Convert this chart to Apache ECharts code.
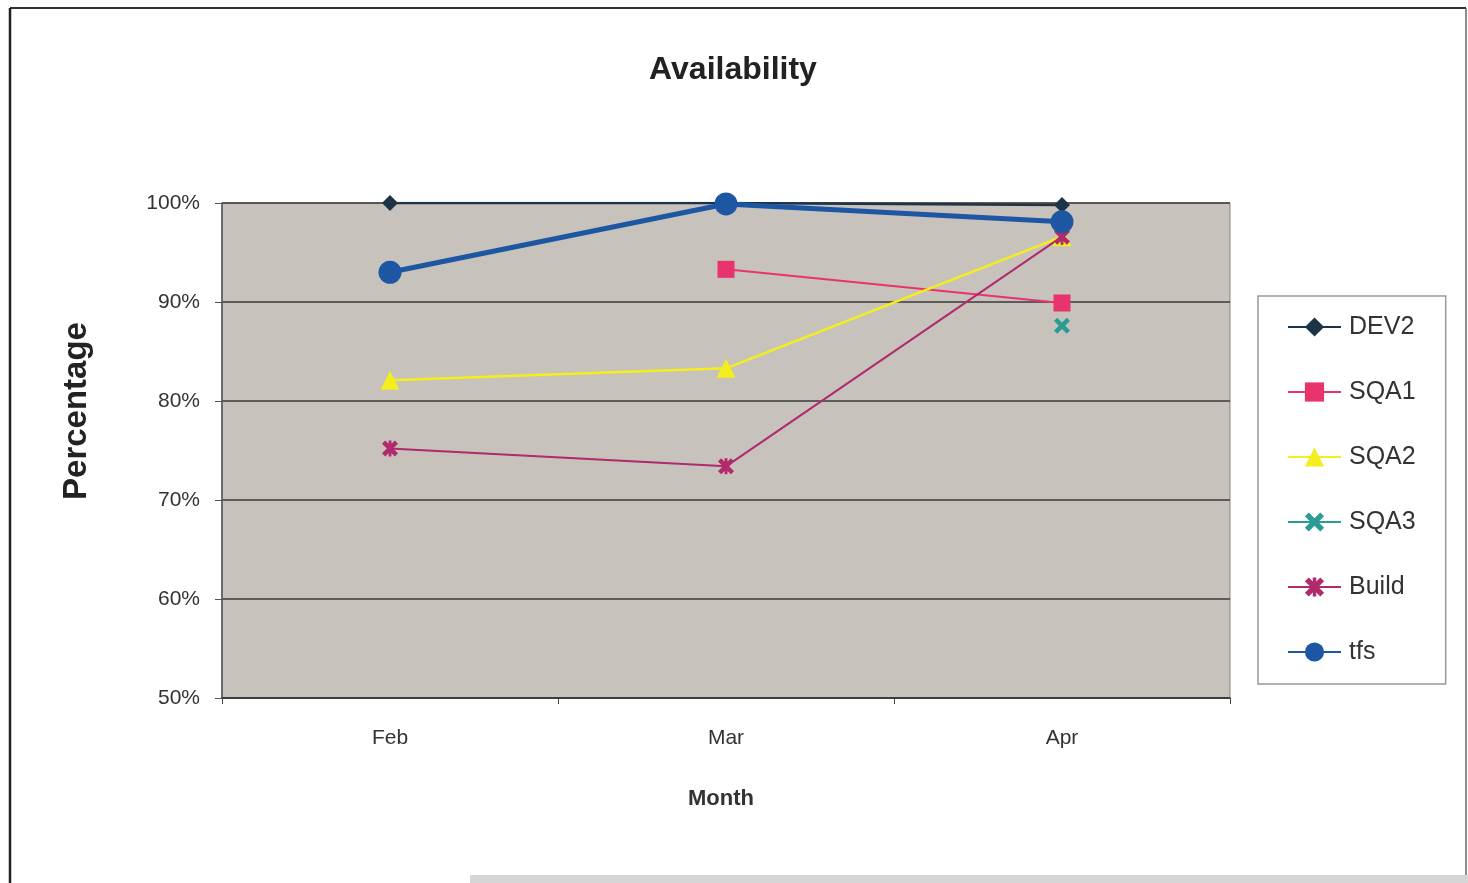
<!DOCTYPE html>
<html>
<head>
<meta charset="utf-8">
<script src="https://cdn.jsdelivr.net/npm/echarts@6/dist/echarts.min.js"></script>
<style>
html,body{margin:0;padding:0;background:#fff;}
#c{width:1468px;height:883px;}
</style>
</head>
<body>
<div id="c"></div>
<script>
const months = ['Feb', 'Mar', 'Apr'];
const dev2 = [100, 100, 99.8];
const sqa1 = [null, 93.3, 89.9];
const sqa2 = [82.1, 83.3, 96.6];
const sqa3 = [null, null, 87.6];
const build = [75.2, 73.4, 96.6];
const tfs = [93.0, 99.9, 98.1];

const xPath = 'path://M0,2 L2,0 L5,3 L8,0 L10,2 L7,5 L10,8 L8,10 L5,7 L2,10 L0,8 L3,5 Z';
const starPath = 'path://M0,2 L2,0 L5,3 L8,0 L10,2 L7,5 L10,8 L8,10 L5,7 L2,10 L0,8 L3,5 Z M4.1,0 L5.9,0 L5.9,10 L4.1,10 Z';
const FONT = 'Liberation Sans, Arial, sans-serif';

const chart = echarts.init(document.getElementById('c'), null, {renderer: 'canvas'});

function line(name, data, color, symbol, size, width, z) {
  return {
    name: name, type: 'line', data: data, symbol: symbol, symbolSize: size,
    lineStyle: {color: color, width: width},
    itemStyle: {color: color, borderColor: color, borderWidth: 0},
    connectNulls: false, z: z, animation: false
  };
}

chart.setOption({
  backgroundColor: '#ffffff',
  animation: false,
  title: {
    text: 'Availability', left: 728, top: 49, textAlign: 'center',
    textStyle: {fontFamily: FONT, fontSize: 32, fontWeight: 'bold', color: '#222'}
  },
  graphic: [
    {type: 'line', shape: {x1: 10, y1: 8, x2: 1466, y2: 8}, style: {stroke: '#333', lineWidth: 2}},
    {type: 'line', shape: {x1: 10, y1: 8, x2: 10, y2: 883}, style: {stroke: '#222', lineWidth: 2.5}},
    {type: 'line', shape: {x1: 1466, y1: 8, x2: 1466, y2: 876}, style: {stroke: '#666', lineWidth: 1.5}},
    {type: 'rect', shape: {x: 470, y: 875, width: 998, height: 8}, style: {fill: '#d6d6d6'}},
    {type: 'text', x: 77, y: 411, rotation: Math.PI / 2,
     style: {text: 'Percentage', fontFamily: FONT, fontSize: 33, fontWeight: 'bold', fill: '#222', textAlign: 'center', textVerticalAlign: 'middle'}}
  ],
  legend: {
    orient: 'vertical', left: 1258, top: 296,
    padding: [18, 30, 19, 29],
    itemWidth: 53, itemHeight: 24, itemGap: 39,
    backgroundColor: '#ffffff', borderColor: '#999', borderWidth: 1.5,
    textStyle: {fontFamily: FONT, fontSize: 25, color: '#333', lineHeight: 26, padding: [0, 0, 0, 3]},
    data: ['DEV2', 'SQA1', 'SQA2', 'SQA3', 'Build', 'tfs']
  },
  grid: {
    left: 222, right: 238, top: 203, bottom: 185,
    show: true, backgroundColor: '#c8c2bd', borderColor: '#8a8580', borderWidth: 1
  },
  xAxis: {
    type: 'category', data: months, boundaryGap: true,
    name: 'Month', nameLocation: 'middle', nameGap: 90,
    nameTextStyle: {fontFamily: FONT, fontSize: 22, fontWeight: 'bold', color: '#333', padding: [0, 10, 0, 0]},
    axisLine: {lineStyle: {color: '#333', width: 1.5}},
    axisTick: {show: true, inside: false, length: 6, alignWithLabel: false, lineStyle: {color: '#444'}},
    axisLabel: {margin: 30, fontFamily: FONT, fontSize: 21, color: '#333'},
    splitLine: {show: false}
  },
  yAxis: {
    type: 'value', min: 50, max: 100, interval: 10,
    axisLine: {show: true, lineStyle: {color: '#555', width: 1.5}},
    axisTick: {show: true, inside: false, length: 7, lineStyle: {color: '#555'}},
    axisLabel: {formatter: '{value}%', margin: 22, fontFamily: FONT, fontSize: 21, color: '#333'},
    splitLine: {show: true, lineStyle: {color: '#3a3a3a', width: 1.5}}
  },
  series: [
    line('DEV2', dev2, '#1d3447', 'diamond', 16, 2.5, 3),
    line('SQA1', sqa1, '#e8336d', 'rect', 17, 2, 4),
    line('SQA2', sqa2, '#f3ee1c', 'triangle', 19, 2.5, 4),
    line('SQA3', sqa3, '#2a9c93', xPath, 16, 2, 4),
    line('Build', build, '#b02a6c', starPath, 16, 2, 4),
    line('tfs', tfs, '#1d56a3', 'circle', 23, 5, 5)
  ]
});
</script>
</body>
</html>
